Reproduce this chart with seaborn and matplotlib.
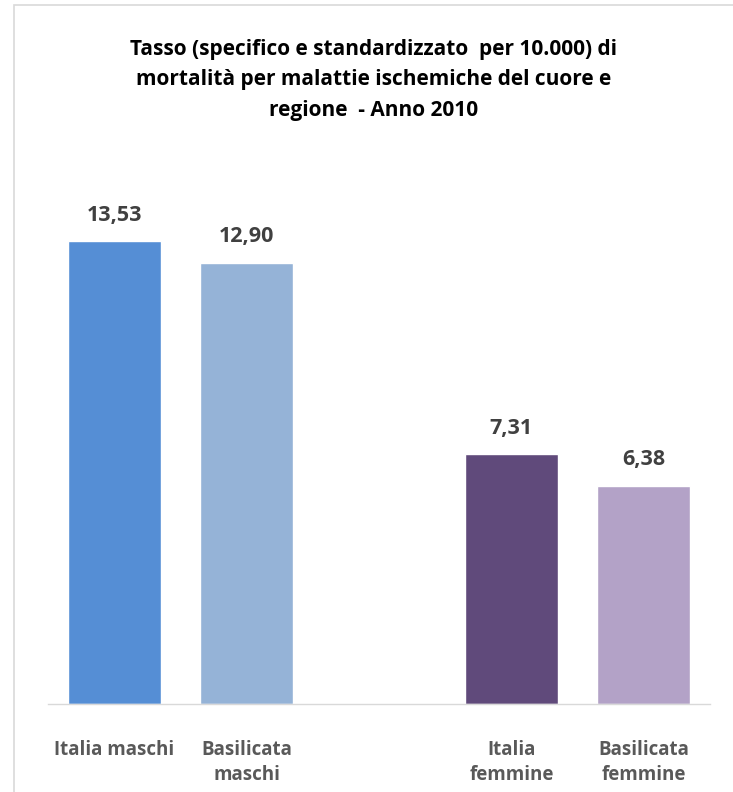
import matplotlib
matplotlib.use("Agg")
import matplotlib.pyplot as plt
import seaborn as sns
import pandas as pd
from matplotlib.patches import Rectangle

categories = ["Italia maschi", "Basilicata\nmaschi", "Italia\nfemmine", "Basilicata\nfemmine"]
values = [13.53, 12.90, 7.31, 6.38]
colors = ["#558ED5", "#95B3D7", "#604A7B", "#B3A2C7"]
spacer = " "
order = [categories[0], categories[1], spacer, categories[2], categories[3]]

sns.set_theme(style="white")
plt.rcParams['font.family'] = ['Open Sans', 'DejaVu Sans']

df = pd.DataFrame({"cat": categories, "val": values})

fig = plt.figure(figsize=(7.33, 7.92), dpi=100)
fig.patch.set_facecolor("white")
# outer chart border
fig.patches.append(Rectangle((14/733, -0.01), 1.02, 1 - 5/792 + 0.01, transform=fig.transFigure,
                             fill=False, edgecolor="#D9D9D9", linewidth=1.2))

ax = fig.add_axes([48/733, 1 - 704/792, (710 - 48)/733, (704 - 156.5)/792])
sns.barplot(data=df, x="cat", y="val", hue="cat", order=order, hue_order=categories,
            palette=colors, width=0.7, legend=False, ax=ax, saturation=1)

ax.set_xlim(-0.5, 4.5)
ax.set_ylim(0, 16)
for c in ax.containers:
    ax.bar_label(c, fmt=lambda v: f"{v:.2f}".replace(".", ","),
                 padding=11, fontsize=15.5, fontweight="bold", color="#404040")

for s in ["top", "right", "left"]:
    ax.spines[s].set_visible(False)
ax.spines["bottom"].set_color("#D9D9D9")
ax.spines["bottom"].set_linewidth(1.0)
ax.set_yticks([])
ax.set_xlabel("")
ax.set_ylabel("")
ax.tick_params(axis="x", length=0, pad=26, labelsize=13.5, labelcolor="#595959")
for t in ax.get_xticklabels():
    t.set_fontweight("bold")
    t.set_linespacing(1.3)
    t.set_verticalalignment("top")

fig.text(0.5 + 7/733, 1 - 80/792,
         "Tasso (specifico e standardizzato  per 10.000) di\nmortalità per malattie ischemiche del cuore e\nregione  - Anno 2010",
         ha="center", va="center", fontsize=15, fontweight="bold", color="black", linespacing=1.6)

fig.savefig("out.png", dpi=100, facecolor="white")
